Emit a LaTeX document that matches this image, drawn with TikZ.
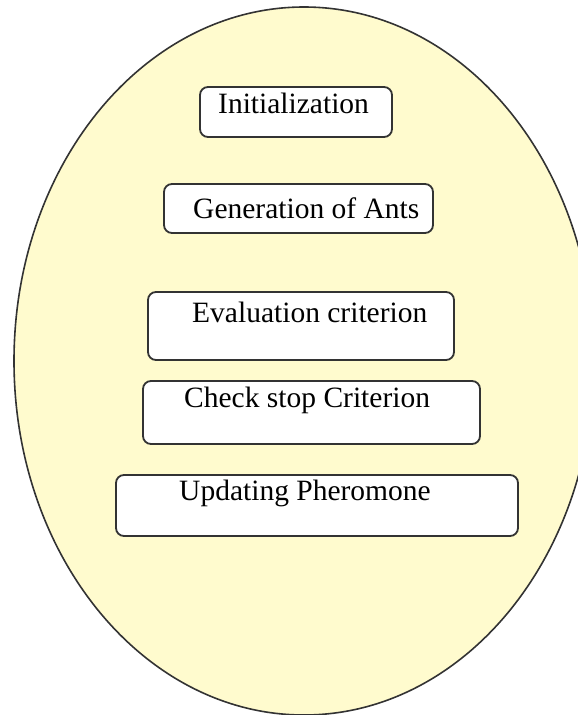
\documentclass[tikz,border=0pt]{standalone}
\usepackage{fontspec}
\setmainfont{Liberation Serif}
\usepackage{xcolor}
\usepackage{tikz}
\usetikzlibrary{calc}
\definecolor{ovalfill}{RGB}{255,251,206}
\definecolor{edgegray}{RGB}{51,51,51}

\begin{document}
\begin{tikzpicture}[x = 1pt, y = -1pt,
    stage/.style = {draw = edgegray, line width = 1.8pt, fill = white, rounded corners = 8pt, inner sep = 0pt},
    caption/.style = {anchor = base west, inner sep = 0pt, font = \fontsize{29.5}{34}\selectfont}]
    \useasboundingbox (0, 0) rectangle (578, 715);
    \filldraw [draw = edgegray, fill = ovalfill, line width = 1.6pt] (304, 361) ellipse [x radius = 290pt, y radius = 354pt];
    \foreach \n\x\y\w\h\tx\ty\t in {init/296/112/192/50/218/113/Initialization,
                                     gen/298.5/208.5/269/49/193/218/Generation of Ants,
                                     eval/301/326/306/68/192/322/Evaluation criterion,
                                     check/311.5/412.5/337/63/184/407/Check stop Criterion,
                                     update/317/505.5/402/61/179/500/Updating Pheromone} {
        \node [stage, minimum width = \w pt, minimum height = \h pt] (\n) at (\x, \y) {};
        \node [caption] (\n-text) at (\tx, \ty) {\t};
    }
\end{tikzpicture}
\end{document}
